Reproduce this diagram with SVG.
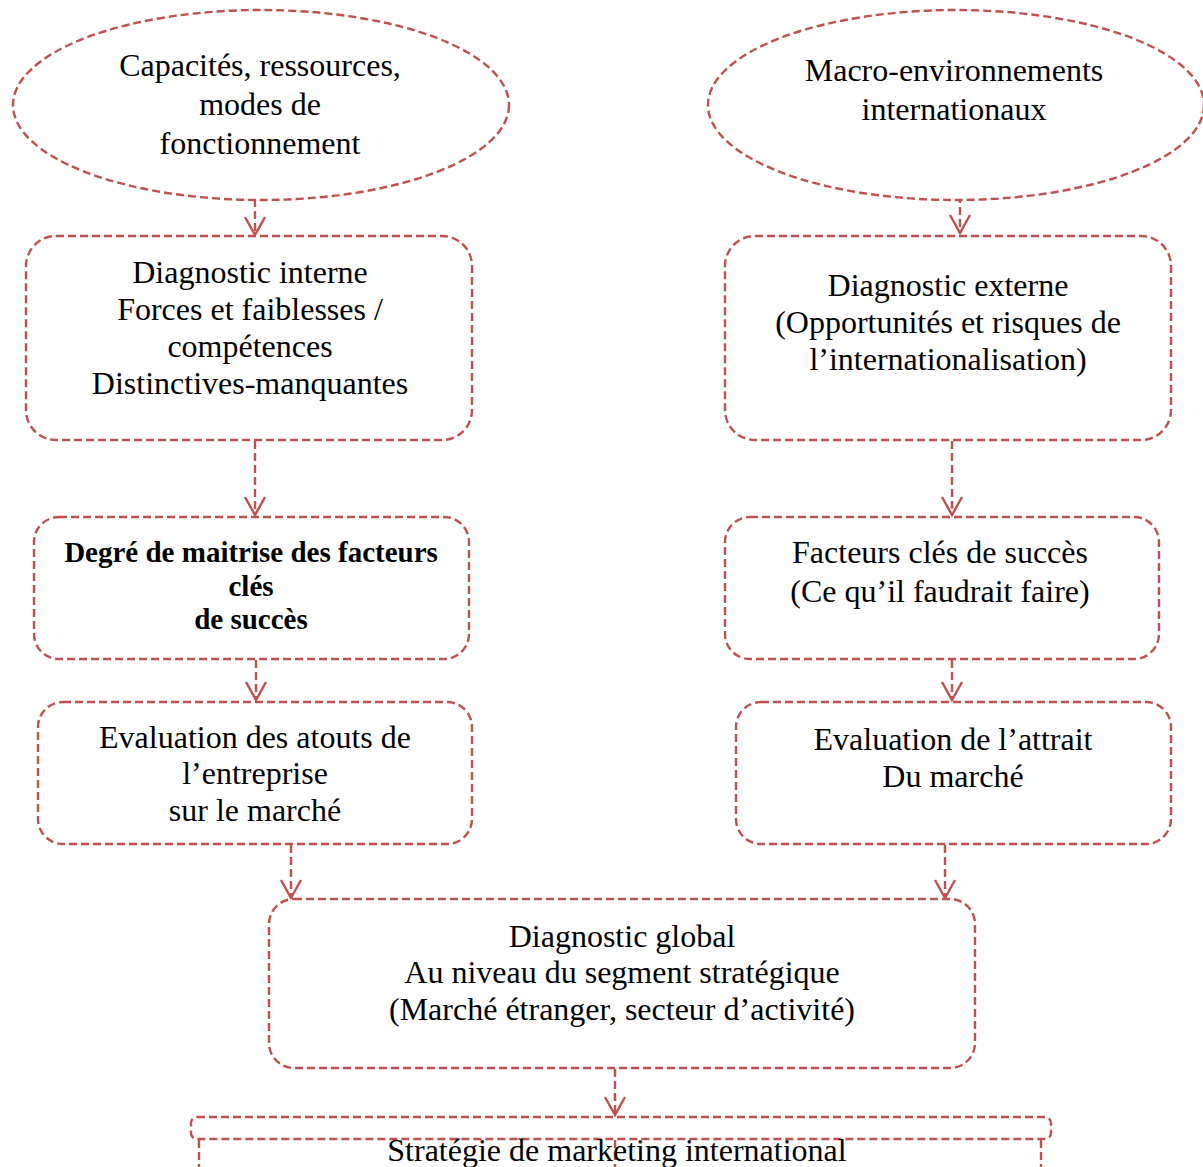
<svg xmlns="http://www.w3.org/2000/svg" width="1203" height="1167" viewBox="0 0 1203 1167">
<defs>
<style>
.n{fill:#fff;stroke:#c0504d;stroke-width:2.4;stroke-dasharray:8,4}
.t{font-family:"Liberation Serif","Times New Roman",serif;font-size:32px;fill:#000;text-anchor:middle}
.b{font-family:"Liberation Serif","Times New Roman",serif;font-size:29px;font-weight:bold;fill:#000;text-anchor:middle}
.c{fill:none;stroke:#c0504d;stroke-width:2.4;stroke-dasharray:8,4}
</style>
<marker id="ah" markerUnits="userSpaceOnUse" markerWidth="40" markerHeight="40" refX="0" refY="0" viewBox="-20 -20 40 40" orient="auto" overflow="visible">
<path d="M-18,-10 L0,0 L-18,10" fill="none" stroke="#c0504d" stroke-width="2.4"/>
</marker>
</defs>
<rect width="1203" height="1167" fill="#fff"/>
<g id="connectors">
<line class="c" x1="255" y1="199" x2="255" y2="235" marker-end="url(#ah)"/>
<line class="c" x1="960" y1="195" x2="960" y2="233" marker-end="url(#ah)"/>
<line class="c" x1="255" y1="441" x2="255" y2="515" marker-end="url(#ah)"/>
<line class="c" x1="952" y1="441" x2="952" y2="515" marker-end="url(#ah)"/>
<line class="c" x1="256" y1="660" x2="256" y2="700" marker-end="url(#ah)"/>
<line class="c" x1="952" y1="660" x2="952" y2="700" marker-end="url(#ah)"/>
<line class="c" x1="291" y1="845" x2="291" y2="898" marker-end="url(#ah)"/>
<line class="c" x1="945" y1="845" x2="945" y2="898" marker-end="url(#ah)"/>
<line class="c" x1="615" y1="1069" x2="615" y2="1115" marker-end="url(#ah)"/>
</g>
<g id="n1">
<ellipse class="n" cx="261" cy="105" rx="248" ry="95"/>
<text class="t" x="260" y="76">Capacités, ressources,</text>
<text class="t" x="260" y="115">modes de</text>
<text class="t" x="260" y="154">fonctionnement</text>
</g>
<g id="n2">
<ellipse class="n" cx="956" cy="105" rx="248" ry="95"/>
<text class="t" x="954" y="81">Macro-environnements</text>
<text class="t" x="954" y="120">internationaux</text>
</g>
<g id="n3">
<rect class="n" x="26" y="236" width="446" height="204" rx="30"/>
<text class="t" x="250" y="283">Diagnostic interne</text>
<text class="t" x="250" y="320">Forces et faiblesses /</text>
<text class="t" x="250" y="357">compétences</text>
<text class="t" x="250" y="394">Distinctives-manquantes</text>
</g>
<g id="n4">
<rect class="n" x="725" y="236" width="446" height="204" rx="30"/>
<text class="t" x="948" y="296">Diagnostic externe</text>
<text class="t" x="948" y="333">(Opportunités et risques de</text>
<text class="t" x="948" y="370">l’internationalisation)</text>
</g>
<g id="n5">
<rect class="n" x="34" y="517" width="435" height="142" rx="25"/>
<text class="b" x="251" y="562">Degré de maitrise des facteurs</text>
<text class="b" x="251" y="596">clés</text>
<text class="b" x="251" y="629">de succès</text>
</g>
<g id="n6">
<rect class="n" x="725" y="517" width="434" height="142" rx="25"/>
<text class="t" x="940" y="563">Facteurs clés de succès</text>
<text class="t" x="940" y="602">(Ce qu’il faudrait faire)</text>
</g>
<g id="n7">
<rect class="n" x="38" y="702" width="434" height="142" rx="25"/>
<text class="t" x="255" y="748">Evaluation des atouts de</text>
<text class="t" x="255" y="784">l’entreprise</text>
<text class="t" x="255" y="821">sur le marché</text>
</g>
<g id="n8">
<rect class="n" x="736" y="702" width="435" height="142" rx="25"/>
<text class="t" x="953" y="750">Evaluation de l’attrait</text>
<text class="t" x="953" y="787">Du marché</text>
</g>
<g id="n9">
<rect class="n" x="269" y="899" width="706" height="169" rx="25"/>
<text class="t" x="622" y="947">Diagnostic global</text>
<text class="t" x="622" y="983">Au niveau du segment stratégique</text>
<text class="t" x="622" y="1020">(Marché étranger, secteur d’activité)</text>
</g>
<g id="n10">
<rect class="n" x="191" y="1117" width="860" height="22" rx="6"/>
<line class="c" x1="199" y1="1140" x2="199" y2="1167"/>
<line class="c" x1="1041" y1="1140" x2="1041" y2="1167"/>
<line class="c" x1="615" y1="1140" x2="615" y2="1167"/>
<text class="t" x="617" y="1161">Stratégie de marketing international</text>
</g>
</svg>
